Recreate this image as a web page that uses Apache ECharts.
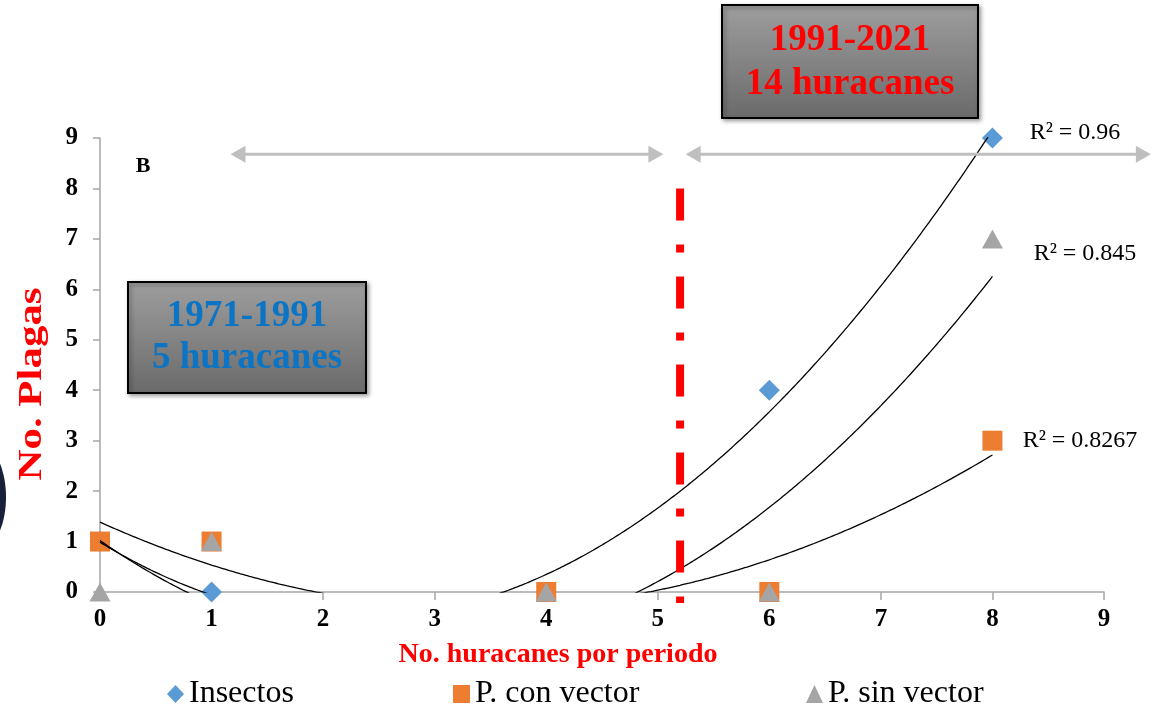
<!DOCTYPE html>
<html>
<head>
<meta charset="utf-8">
<script src="https://cdn.jsdelivr.net/npm/echarts@6/dist/echarts.min.js"></script>
<style>
html,body{margin:0;padding:0;background:#fff;}
#chart{width:1153px;height:712px;}
</style>
</head>
<body>
<div id="chart"></div>
<script>
// ---- data ----
const xValues = [0, 1, 4, 6, 8];
const insectos = [1, 0, 0, 4, 9];
const conVector = [1, 1, 0, 0, 3];
const sinVector = [0, 1, 0, 0, 7];
const seriesNames = ['Insectos', 'P. con vector', 'P. sin vector'];
const r2Labels = ['R² = 0.96', 'R² = 0.8267', 'R² = 0.845'];
const periodBoxes = [['1991-2021', '14 huracanes'], ['1971-1991', '5 huracanes']];
const divisionX = 5.2;        // dividing dash-dot line (data units)
const divisionTopY = 8;
const arrowRanges = [[1.17, 5.05], [5.25, 9.42]]; // data x ranges of the period arrows
const arrowY = 8.68;

// ---- least squares quadratic (Excel polynomial trendline, order 2) ----
function polyfit2(x, y) {
  let S = [0, 0, 0, 0, 0], T = [0, 0, 0];
  for (let i = 0; i < x.length; i++) {
    let p = 1;
    for (let k = 0; k < 5; k++) { S[k] += p; if (k < 3) T[k] += p * y[i]; p *= x[i]; }
  }
  const M = [[S[0], S[1], S[2]], [S[1], S[2], S[3]], [S[2], S[3], S[4]]];
  const det = m => m[0][0]*(m[1][1]*m[2][2]-m[1][2]*m[2][1]) - m[0][1]*(m[1][0]*m[2][2]-m[1][2]*m[2][0]) + m[0][2]*(m[1][0]*m[2][1]-m[1][1]*m[2][0]);
  const D = det(M);
  const res = [];
  for (let c = 0; c < 3; c++) {
    const Mc = M.map((row, r) => row.map((v, j) => j === c ? T[r] : v));
    res.push(det(Mc) / D);
  }
  return res; // a, b, c
}
function trend(x, y) {
  const [a, b, c] = polyfit2(x, y);
  const xmin = Math.min(...x), xmax = Math.max(...x);
  const pts = [];
  const n = 400;
  for (let i = 0; i <= n; i++) {
    const t = xmin + (xmax - xmin) * i / n;
    pts.push([t, a + b * t + c * t * t]);
  }
  return pts;
}
const pairs = ys => xValues.map((x, i) => [x, ys[i]]);

const SERIF = '"Liberation Serif", "Times New Roman", serif';
const chart = echarts.init(document.getElementById('chart'), null, {renderer: 'canvas'});

const trendStyle = {color: '#000', width: 1.3};
function trendSeries(ys) {
  return {type: 'line', data: trend(xValues, ys), showSymbol: false, symbol: 'none', clip: true,
    lineStyle: trendStyle, silent: true, z: 5, animation: false};
}

const legendBase = {
  itemWidth: 17, itemHeight: 18, top: 678, padding: 0, itemGap: 0,
  textStyle: {fontFamily: SERIF, fontSize: 32, color: '#000'}
};

chart.setOption({
  animation: false,
  backgroundColor: '#fff',
  grid: {left: 100, right: 49, top: 138, bottom: 120},
  xAxis: {
    type: 'value', min: 0, max: 9, interval: 1,
    axisLine: {show: true, lineStyle: {color: '#A6A6A6', width: 1.5}},
    axisTick: {show: true, length: 8, lineStyle: {color: '#A6A6A6', width: 1.5}},
    splitLine: {show: false},
    axisLabel: {fontFamily: SERIF, fontWeight: 'bold', fontSize: 25, color: '#000', margin: 15}
  },
  yAxis: {
    type: 'value', min: 0, max: 9, interval: 1,
    axisLine: {show: true, lineStyle: {color: '#A6A6A6', width: 1.5}},
    axisTick: {show: true, length: 7, lineStyle: {color: '#A6A6A6', width: 1.5}},
    splitLine: {show: false},
    axisLabel: {fontFamily: SERIF, fontWeight: 'bold', fontSize: 25, color: '#000', margin: 22}
  },
  legend: [
    Object.assign({}, legendBase, {data: [seriesNames[0]], left: 167}),
    Object.assign({}, legendBase, {data: [seriesNames[1]], left: 453}),
    Object.assign({}, legendBase, {data: [seriesNames[2]], left: 806})
  ],
  series: [
    {name: seriesNames[0], type: 'scatter', data: pairs(insectos), symbol: 'diamond', symbolSize: [21, 21],
      itemStyle: {color: '#5B9BD5', opacity: 1}, z: 2},
    {name: seriesNames[1], type: 'scatter', data: pairs(conVector), symbol: 'rect', symbolSize: [20, 20],
      itemStyle: {color: '#ED7D31', opacity: 1}, z: 3},
    {name: seriesNames[2], type: 'scatter', data: pairs(sinVector), symbol: 'triangle', symbolSize: [21, 19],
      itemStyle: {color: '#A5A5A5', opacity: 1}, z: 4},
    trendSeries(insectos),
    trendSeries(conVector),
    trendSeries(sinVector)
  ]
});

// ---- annotations positioned through the chart's own scales ----
const px = (x, y) => chart.convertToPixel({gridIndex: 0}, [x, y]);
const graphics = [];

// dividing line
const dTop = px(divisionX, divisionTopY), dBot = px(divisionX, -0.22);
graphics.push({type: 'line', z: 10, shape: {x1: dTop[0], y1: dTop[1], x2: dBot[0], y2: dBot[1]},
  style: {stroke: '#FF0000', lineWidth: 8, lineDash: [32, 24, 8, 24]}});

// arrows
arrowRanges.forEach(r => {
  const a = px(r[0], arrowY), b = px(r[1], arrowY);
  const y = a[1], L = 15, H = 8.5;
  graphics.push({type: 'line', z: 10, shape: {x1: a[0] + L - 2, y1: y, x2: b[0] - L + 2, y2: y},
    style: {stroke: '#BFBFBF', lineWidth: 3}});
  graphics.push({type: 'polygon', z: 10, shape: {points: [[a[0], y], [a[0] + L, y - H], [a[0] + L, y + H]]},
    style: {fill: '#BFBFBF'}});
  graphics.push({type: 'polygon', z: 10, shape: {points: [[b[0], y], [b[0] - L, y - H], [b[0] - L, y + H]]},
    style: {fill: '#BFBFBF'}});
});

// period boxes
function box(x, y, w, h, lines, color, ly) {
  graphics.push({type: 'rect', z: 20, shape: {x: x, y: y, width: w, height: h},
    style: {fill: new echarts.graphic.LinearGradient(0, 0, 0, 1, [{offset: 0, color: '#9E9E9E'}, {offset: 1, color: '#6A6A6A'}]),
      stroke: '#000', lineWidth: 2, shadowBlur: 4, shadowOffsetX: 2, shadowOffsetY: 2, shadowColor: 'rgba(0,0,0,0.35)'}});
  lines.forEach((t, i) => graphics.push({type: 'text', z: 21, x: x + w / 2, y: ly[i],
    style: {text: t, font: 'bold 37px ' + SERIF, fill: color, align: 'center', verticalAlign: 'middle'}}));
}
box(722, 5, 256, 113, periodBoxes[0], '#FF0000', [40, 84]);
box(128, 282, 238, 111, periodBoxes[1], '#0B74C4', [316, 358]);

// R² labels
const r2Pos = [[1075, 133], [1080, 441], [1085, 254]];
r2Labels.forEach((t, i) => graphics.push({type: 'text', z: 12, x: r2Pos[i][0], y: r2Pos[i][1],
  style: {text: t, font: '24px ' + SERIF, fill: '#000', align: 'center', verticalAlign: 'middle'}}));

// panel letter
graphics.push({type: 'text', z: 12, x: 143, y: 166,
  style: {text: 'B', font: 'bold 22px ' + SERIF, fill: '#000', align: 'center', verticalAlign: 'middle'}});

// axis titles
graphics.push({type: 'text', z: 12, x: 558, y: 655,
  style: {text: 'No. huracanes por periodo', font: 'bold 28px ' + SERIF, fill: '#FF0000', align: 'center', verticalAlign: 'middle'}});
graphics.push({type: 'text', z: 12, x: 32, y: 384, rotation: Math.PI / 2, scaleX: 1.3,
  style: {text: 'No. Plagas', font: 'bold 33px ' + SERIF, fill: '#FF0000', align: 'center', verticalAlign: 'middle'}});

// partial dark image at left edge
graphics.push({type: 'ellipse', z: 1, shape: {cx: -24, cy: 497, rx: 30, ry: 56}, style: {fill: '#18203A'}});

chart.setOption({graphic: graphics});
</script>
</body>
</html>
